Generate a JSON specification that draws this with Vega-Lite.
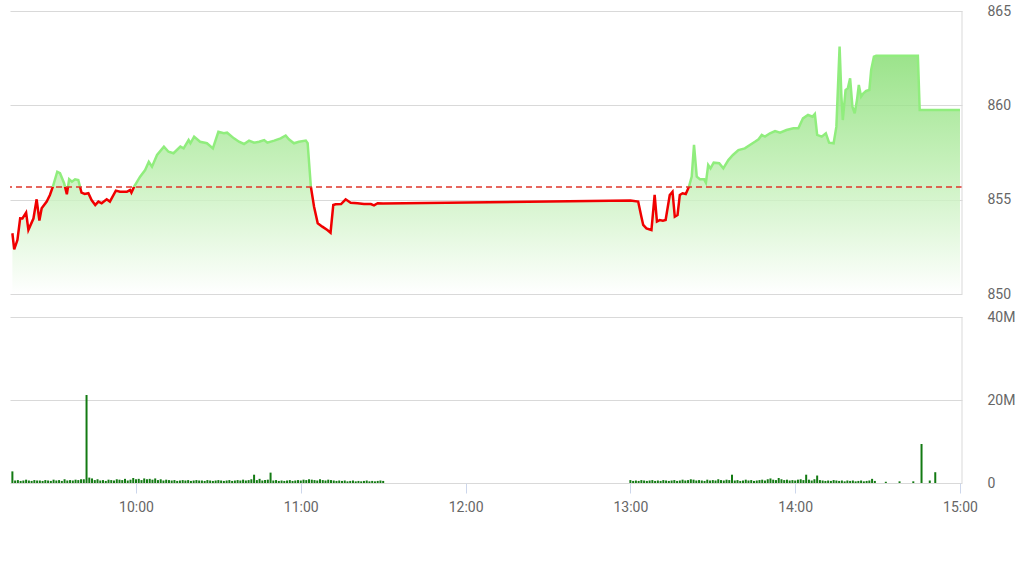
{
  "$schema": "https://vega.github.io/schema/vega-lite/v6.json",
  "width": 952,
  "height": 472,
  "autosize": {"type": "none"},
  "padding": {"left": 10, "top": 11, "right": 61, "bottom": 92},
  "background": "#ffffff",
  "config": {
    "view": {"stroke": null},
    "axis": {"labelFont": "Roboto", "labelFontSize": 14, "labelColor": "#666666", "labelFlush": false, "title": null}
  },
  "layer": [
    {
      "data": {
        "values": [
          {"t": "09:15:00", "p": 853.22}, {"t": "09:15:40", "p": 852.37}, {"t": "09:16:50", "p": 852.86}, {"t": "09:17:50", "p": 854.01},
          {"t": "09:18:40", "p": 854.0}, {"t": "09:20:00", "p": 854.31}, {"t": "09:20:50", "p": 853.4}, {"t": "09:22:40", "p": 854.0},
          {"t": "09:23:50", "p": 855.02}, {"t": "09:24:50", "p": 853.89}, {"t": "09:25:40", "p": 854.54}, {"t": "09:27:30", "p": 854.9},
          {"t": "09:28:40", "p": 855.25}, {"t": "09:29:50", "p": 855.73}, {"t": "09:31:20", "p": 856.48}, {"t": "09:32:20", "p": 856.4},
          {"t": "09:33:50", "p": 855.87}, {"t": "09:34:50", "p": 855.29}, {"t": "09:35:40", "p": 856.08}, {"t": "09:36:40", "p": 855.95},
          {"t": "09:37:50", "p": 856.08}, {"t": "09:39:00", "p": 856.04}, {"t": "09:40:10", "p": 855.37}, {"t": "09:41:20", "p": 855.3},
          {"t": "09:42:40", "p": 855.34}, {"t": "09:43:50", "p": 854.98}, {"t": "09:45:10", "p": 854.72}, {"t": "09:46:20", "p": 854.9},
          {"t": "09:47:30", "p": 854.81}, {"t": "09:49:20", "p": 855.02}, {"t": "09:50:30", "p": 854.9}, {"t": "09:52:40", "p": 855.48},
          {"t": "09:54:10", "p": 855.42}, {"t": "09:56:40", "p": 855.42}, {"t": "09:57:50", "p": 855.51}, {"t": "09:58:20", "p": 855.37},
          {"t": "09:59:20", "p": 855.69}, {"t": "10:01:30", "p": 856.22}, {"t": "10:03:20", "p": 856.57}, {"t": "10:04:40", "p": 857.01},
          {"t": "10:05:50", "p": 856.75}, {"t": "10:07:40", "p": 857.37}, {"t": "10:10:10", "p": 857.81}, {"t": "10:11:50", "p": 857.54},
          {"t": "10:13:40", "p": 857.46}, {"t": "10:16:10", "p": 857.81}, {"t": "10:17:20", "p": 857.72}, {"t": "10:19:10", "p": 858.16},
          {"t": "10:19:50", "p": 857.99}, {"t": "10:21:10", "p": 858.34}, {"t": "10:23:20", "p": 858.07}, {"t": "10:25:50", "p": 857.99},
          {"t": "10:28:00", "p": 857.72}, {"t": "10:30:00", "p": 858.6}, {"t": "10:32:00", "p": 858.52}, {"t": "10:33:10", "p": 858.55},
          {"t": "10:35:40", "p": 858.25}, {"t": "10:37:30", "p": 858.07}, {"t": "10:39:20", "p": 857.95}, {"t": "10:41:10", "p": 858.13},
          {"t": "10:43:00", "p": 858.02}, {"t": "10:44:50", "p": 858.07}, {"t": "10:46:40", "p": 858.16}, {"t": "10:47:50", "p": 858.02},
          {"t": "10:50:20", "p": 858.13}, {"t": "10:52:40", "p": 858.25}, {"t": "10:54:30", "p": 858.4}, {"t": "10:55:40", "p": 858.2},
          {"t": "10:57:30", "p": 857.99}, {"t": "10:59:20", "p": 858.07}, {"t": "11:01:50", "p": 858.13}, {"t": "11:02:30", "p": 857.99},
          {"t": "11:03:40", "p": 855.69}, {"t": "11:04:50", "p": 854.63}, {"t": "11:06:10", "p": 853.75}, {"t": "11:07:50", "p": 853.57},
          {"t": "11:09:40", "p": 853.39}, {"t": "11:10:50", "p": 853.25}, {"t": "11:11:50", "p": 854.72}, {"t": "11:12:40", "p": 854.76},
          {"t": "11:14:40", "p": 854.77}, {"t": "11:16:20", "p": 855.02}, {"t": "11:18:10", "p": 854.84}, {"t": "11:20:40", "p": 854.81},
          {"t": "11:23:00", "p": 854.77}, {"t": "11:25:30", "p": 854.77}, {"t": "11:26:40", "p": 854.7}, {"t": "11:28:00", "p": 854.81},
          {"t": "11:30:00", "p": 854.8}, {"t": "13:00:00", "p": 854.95}, {"t": "13:02:50", "p": 854.9}, {"t": "13:04:00", "p": 854.1},
          {"t": "13:04:40", "p": 853.66}, {"t": "13:05:50", "p": 853.48}, {"t": "13:07:40", "p": 853.39}, {"t": "13:08:50", "p": 855.25},
          {"t": "13:09:40", "p": 853.84}, {"t": "13:10:40", "p": 853.92}, {"t": "13:11:50", "p": 853.89}, {"t": "13:12:50", "p": 853.92},
          {"t": "13:14:20", "p": 855.25}, {"t": "13:15:20", "p": 855.42}, {"t": "13:16:10", "p": 854.1}, {"t": "13:17:10", "p": 854.19},
          {"t": "13:18:00", "p": 855.25}, {"t": "13:19:00", "p": 855.34}, {"t": "13:20:10", "p": 855.3}, {"t": "13:21:20", "p": 855.69},
          {"t": "13:22:20", "p": 856.22}, {"t": "13:23:10", "p": 857.9}, {"t": "13:24:10", "p": 856.22}, {"t": "13:25:20", "p": 856.08},
          {"t": "13:26:50", "p": 856.08}, {"t": "13:27:30", "p": 855.9}, {"t": "13:28:20", "p": 856.84}, {"t": "13:29:10", "p": 856.66},
          {"t": "13:30:20", "p": 856.96}, {"t": "13:32:20", "p": 856.93}, {"t": "13:33:50", "p": 856.66}, {"t": "13:35:40", "p": 857.1},
          {"t": "13:37:20", "p": 857.37}, {"t": "13:39:20", "p": 857.63}, {"t": "13:41:40", "p": 857.72}, {"t": "13:43:30", "p": 857.9},
          {"t": "13:45:20", "p": 858.07}, {"t": "13:46:40", "p": 858.2}, {"t": "13:47:50", "p": 858.43}, {"t": "13:49:00", "p": 858.34},
          {"t": "13:50:50", "p": 858.52}, {"t": "13:52:40", "p": 858.64}, {"t": "13:54:30", "p": 858.55}, {"t": "13:56:50", "p": 858.69},
          {"t": "13:59:20", "p": 858.78}, {"t": "14:01:10", "p": 858.78}, {"t": "14:02:50", "p": 859.31}, {"t": "14:04:40", "p": 859.49},
          {"t": "14:06:20", "p": 859.4}, {"t": "14:07:10", "p": 859.54}, {"t": "14:08:00", "p": 858.43}, {"t": "14:09:40", "p": 858.34},
          {"t": "14:11:10", "p": 858.52}, {"t": "14:12:20", "p": 858.02}, {"t": "14:14:00", "p": 857.99}, {"t": "14:15:00", "p": 858.87},
          {"t": "14:16:10", "p": 863.11}, {"t": "14:16:50", "p": 860.46}, {"t": "14:17:20", "p": 859.22}, {"t": "14:18:20", "p": 860.81},
          {"t": "14:19:10", "p": 860.9}, {"t": "14:20:00", "p": 861.43}, {"t": "14:20:50", "p": 859.93}, {"t": "14:21:40", "p": 859.58},
          {"t": "14:22:30", "p": 860.28}, {"t": "14:23:10", "p": 861.08}, {"t": "14:24:00", "p": 860.46}, {"t": "14:24:50", "p": 860.64},
          {"t": "14:25:50", "p": 860.76}, {"t": "14:27:00", "p": 860.81}, {"t": "14:27:40", "p": 861.87}, {"t": "14:28:40", "p": 862.58},
          {"t": "14:29:30", "p": 862.63}, {"t": "14:44:40", "p": 862.63}, {"t": "14:45:20", "p": 859.75}, {"t": "15:00:00", "p": 859.75}
        ],
        "format": {"parse": {"t": "date:'%H:%M:%S'"}}
      },
      "layer": [
        {
          "mark": {
            "type": "area",
            "interpolate": "linear",
            "fillOpacity": 0.8,
            "fill": {
              "gradient": "linear", "x1": 0, "y1": 0, "x2": 0, "y2": 1,
              "stops": [
                {"offset": 0, "color": "#7edb69"},
                {"offset": 0.5, "color": "#bbeeae"},
                {"offset": 1, "color": "#ffffff"}
              ]
            }
          },
          "encoding": {
            "x": {"field": "t", "type": "temporal", "scale": {"nice": false, "padding": 0, "domain": [{"year": 1900, "month": 1, "date": 1, "hours": 9, "minutes": 14, "seconds": 8}, {"year": 1900, "month": 1, "date": 1, "hours": 15, "minutes": 0, "seconds": 44}]}},
            "y": {"field": "p", "type": "quantitative", "stack": null, "scale": {"domain": [850, 865], "range": [283, 0], "nice": false, "zero": false},
              "axis": {"orient": "right", "values": [850, 855, 860, 865], "grid": true, "gridColor": "#d9d9d9", "gridWidth": 1, "ticks": false, "tickSize": 0, "domain": false, "labelPadding": 25, "labelAlign": "left", "labelBaseline": "middle"}},
            "y2": {"datum": 850}
          }
        },
        {
          "mark": {
            "type": "line",
            "interpolate": "linear",
            "strokeWidth": 2.5,
            "stroke": {
              "gradient": "linear", "x1": 0, "y1": 0, "x2": 0, "y2": 1,
              "stops": [
                {"offset": 0, "color": "#90ed7d"},
                {"offset": 0.69274, "color": "#90ed7d"},
                {"offset": 0.69274, "color": "#f00000"},
                {"offset": 1, "color": "#f00000"}
              ]
            }
          },
          "encoding": {
            "x": {"field": "t", "type": "temporal"},
            "y": {"field": "p", "type": "quantitative"}
          }
        },
        {
          "data": {"values": [{"ref": 855.67}]},
          "mark": {"type": "rule", "color": "#e0352b", "strokeWidth": 1.5, "strokeDash": [6, 4]},
          "encoding": {
            "y": {"field": "ref", "type": "quantitative"}
          }
        },
        {
          "data": {"values": [{}]},
          "mark": {"type": "rule", "color": "#d9d9d9", "strokeWidth": 1},
          "encoding": {
            "x": {"datum": {"year": 1900, "month": 1, "date": 1, "hours": 15, "minutes": 0, "seconds": 44}, "type": "temporal"},
            "y": {"datum": 850, "type": "quantitative"},
            "y2": {"datum": 865}
          }
        }
      ]
    },
    {
      "data": {
        "values": [
          {"t": "09:15", "v": 2.8}, {"t": "09:16", "v": 0.6}, {"t": "09:17", "v": 0.7}, {"t": "09:18", "v": 0.5}, {"t": "09:19", "v": 0.6},
          {"t": "09:20", "v": 0.8}, {"t": "09:21", "v": 0.6}, {"t": "09:22", "v": 0.5}, {"t": "09:23", "v": 0.7}, {"t": "09:24", "v": 0.6},
          {"t": "09:25", "v": 0.6}, {"t": "09:26", "v": 0.5}, {"t": "09:27", "v": 0.7}, {"t": "09:28", "v": 0.6}, {"t": "09:29", "v": 0.5},
          {"t": "09:30", "v": 0.8}, {"t": "09:31", "v": 0.6}, {"t": "09:32", "v": 0.7}, {"t": "09:33", "v": 0.5}, {"t": "09:34", "v": 0.9},
          {"t": "09:35", "v": 0.6}, {"t": "09:36", "v": 0.7}, {"t": "09:37", "v": 0.6}, {"t": "09:38", "v": 0.8}, {"t": "09:39", "v": 0.7},
          {"t": "09:40", "v": 0.9}, {"t": "09:41", "v": 0.9}, {"t": "09:42", "v": 21.2}, {"t": "09:43", "v": 1.3}, {"t": "09:44", "v": 1.1},
          {"t": "09:45", "v": 0.7}, {"t": "09:46", "v": 0.9}, {"t": "09:47", "v": 0.6}, {"t": "09:48", "v": 0.7}, {"t": "09:49", "v": 0.5},
          {"t": "09:50", "v": 0.8}, {"t": "09:51", "v": 0.7}, {"t": "09:52", "v": 0.6}, {"t": "09:53", "v": 0.9}, {"t": "09:54", "v": 0.8},
          {"t": "09:55", "v": 0.7}, {"t": "09:56", "v": 1.0}, {"t": "09:57", "v": 0.6}, {"t": "09:58", "v": 0.8}, {"t": "09:59", "v": 1.2},
          {"t": "10:00", "v": 0.9}, {"t": "10:01", "v": 1.0}, {"t": "10:02", "v": 0.7}, {"t": "10:03", "v": 1.1}, {"t": "10:04", "v": 0.9},
          {"t": "10:05", "v": 1.0}, {"t": "10:06", "v": 0.8}, {"t": "10:07", "v": 1.1}, {"t": "10:08", "v": 0.7}, {"t": "10:09", "v": 0.9},
          {"t": "10:10", "v": 0.6}, {"t": "10:11", "v": 0.8}, {"t": "10:12", "v": 0.7}, {"t": "10:13", "v": 0.6}, {"t": "10:14", "v": 0.7},
          {"t": "10:15", "v": 0.5}, {"t": "10:16", "v": 0.6}, {"t": "10:17", "v": 0.7}, {"t": "10:18", "v": 0.6}, {"t": "10:19", "v": 0.7},
          {"t": "10:20", "v": 0.5}, {"t": "10:21", "v": 0.6}, {"t": "10:22", "v": 0.7}, {"t": "10:23", "v": 0.6}, {"t": "10:24", "v": 0.6},
          {"t": "10:25", "v": 0.5}, {"t": "10:26", "v": 0.7}, {"t": "10:27", "v": 0.6}, {"t": "10:28", "v": 0.5}, {"t": "10:29", "v": 0.6},
          {"t": "10:30", "v": 0.7}, {"t": "10:31", "v": 0.6}, {"t": "10:32", "v": 0.5}, {"t": "10:33", "v": 0.6}, {"t": "10:34", "v": 0.7},
          {"t": "10:35", "v": 0.5}, {"t": "10:36", "v": 0.6}, {"t": "10:37", "v": 0.7}, {"t": "10:38", "v": 0.6}, {"t": "10:39", "v": 0.8},
          {"t": "10:40", "v": 0.6}, {"t": "10:41", "v": 0.7}, {"t": "10:42", "v": 0.9}, {"t": "10:43", "v": 2.0}, {"t": "10:44", "v": 0.7},
          {"t": "10:45", "v": 1.0}, {"t": "10:46", "v": 0.6}, {"t": "10:47", "v": 0.7}, {"t": "10:48", "v": 0.8}, {"t": "10:49", "v": 2.5},
          {"t": "10:50", "v": 0.6}, {"t": "10:51", "v": 0.7}, {"t": "10:52", "v": 0.5}, {"t": "10:53", "v": 0.6}, {"t": "10:54", "v": 0.5},
          {"t": "10:55", "v": 0.6}, {"t": "10:56", "v": 0.7}, {"t": "10:57", "v": 0.5}, {"t": "10:58", "v": 0.6}, {"t": "10:59", "v": 0.7},
          {"t": "11:00", "v": 0.6}, {"t": "11:01", "v": 0.8}, {"t": "11:02", "v": 0.7}, {"t": "11:03", "v": 0.9}, {"t": "11:04", "v": 0.8},
          {"t": "11:05", "v": 0.7}, {"t": "11:06", "v": 0.6}, {"t": "11:07", "v": 0.9}, {"t": "11:08", "v": 0.7}, {"t": "11:09", "v": 0.6},
          {"t": "11:10", "v": 0.8}, {"t": "11:11", "v": 0.7}, {"t": "11:12", "v": 0.6}, {"t": "11:13", "v": 0.5}, {"t": "11:14", "v": 0.6},
          {"t": "11:15", "v": 0.5}, {"t": "11:16", "v": 0.6}, {"t": "11:17", "v": 0.4}, {"t": "11:18", "v": 0.5}, {"t": "11:19", "v": 0.6},
          {"t": "11:20", "v": 0.4}, {"t": "11:21", "v": 0.5}, {"t": "11:22", "v": 0.4}, {"t": "11:23", "v": 0.5}, {"t": "11:24", "v": 0.6},
          {"t": "11:25", "v": 0.4}, {"t": "11:26", "v": 0.5}, {"t": "11:27", "v": 0.4}, {"t": "11:28", "v": 0.5}, {"t": "11:29", "v": 0.6},
          {"t": "11:30", "v": 0.5},
          {"t": "13:00", "v": 0.7}, {"t": "13:01", "v": 0.5}, {"t": "13:02", "v": 0.6}, {"t": "13:03", "v": 0.5}, {"t": "13:04", "v": 0.7},
          {"t": "13:05", "v": 0.6}, {"t": "13:06", "v": 0.5}, {"t": "13:07", "v": 0.6}, {"t": "13:08", "v": 0.7}, {"t": "13:09", "v": 0.5},
          {"t": "13:10", "v": 0.6}, {"t": "13:11", "v": 0.5}, {"t": "13:12", "v": 0.7}, {"t": "13:13", "v": 0.6}, {"t": "13:14", "v": 0.5},
          {"t": "13:15", "v": 0.6}, {"t": "13:16", "v": 0.7}, {"t": "13:17", "v": 0.5}, {"t": "13:18", "v": 0.6}, {"t": "13:19", "v": 0.8},
          {"t": "13:20", "v": 0.6}, {"t": "13:21", "v": 0.7}, {"t": "13:22", "v": 0.9}, {"t": "13:23", "v": 0.8}, {"t": "13:24", "v": 0.6},
          {"t": "13:25", "v": 0.7}, {"t": "13:26", "v": 0.6}, {"t": "13:27", "v": 0.5}, {"t": "13:28", "v": 0.8}, {"t": "13:29", "v": 0.6},
          {"t": "13:30", "v": 0.7}, {"t": "13:31", "v": 0.6}, {"t": "13:32", "v": 0.9}, {"t": "13:33", "v": 0.7}, {"t": "13:34", "v": 0.6},
          {"t": "13:35", "v": 0.8}, {"t": "13:36", "v": 0.7}, {"t": "13:37", "v": 2.0}, {"t": "13:38", "v": 0.6}, {"t": "13:39", "v": 0.7},
          {"t": "13:40", "v": 0.5}, {"t": "13:41", "v": 0.6}, {"t": "13:42", "v": 0.8}, {"t": "13:43", "v": 0.6}, {"t": "13:44", "v": 0.7},
          {"t": "13:45", "v": 0.5}, {"t": "13:46", "v": 0.6}, {"t": "13:47", "v": 0.7}, {"t": "13:48", "v": 0.8}, {"t": "13:49", "v": 0.6},
          {"t": "13:50", "v": 0.9}, {"t": "13:51", "v": 1.1}, {"t": "13:52", "v": 0.8}, {"t": "13:53", "v": 0.7}, {"t": "13:54", "v": 1.2},
          {"t": "13:55", "v": 0.9}, {"t": "13:56", "v": 0.7}, {"t": "13:57", "v": 0.8}, {"t": "13:58", "v": 0.6}, {"t": "13:59", "v": 0.7},
          {"t": "14:00", "v": 0.6}, {"t": "14:01", "v": 0.8}, {"t": "14:02", "v": 0.9}, {"t": "14:03", "v": 0.7}, {"t": "14:04", "v": 2.0},
          {"t": "14:05", "v": 0.8}, {"t": "14:06", "v": 0.6}, {"t": "14:07", "v": 0.9}, {"t": "14:08", "v": 1.8}, {"t": "14:09", "v": 0.7},
          {"t": "14:10", "v": 0.6}, {"t": "14:11", "v": 0.5}, {"t": "14:12", "v": 0.6}, {"t": "14:13", "v": 0.5}, {"t": "14:14", "v": 0.7},
          {"t": "14:15", "v": 0.6}, {"t": "14:16", "v": 0.5}, {"t": "14:17", "v": 0.6}, {"t": "14:18", "v": 0.4}, {"t": "14:19", "v": 0.6},
          {"t": "14:20", "v": 0.5}, {"t": "14:21", "v": 0.6}, {"t": "14:22", "v": 0.4}, {"t": "14:23", "v": 0.5}, {"t": "14:24", "v": 0.6},
          {"t": "14:25", "v": 0.4}, {"t": "14:26", "v": 0.5}, {"t": "14:27", "v": 0.6}, {"t": "14:28", "v": 1.0}, {"t": "14:29", "v": 0.5},
          {"t": "14:33", "v": 0.3}, {"t": "14:38", "v": 0.4}, {"t": "14:43", "v": 0.4}, {"t": "14:46", "v": 9.4}, {"t": "14:49", "v": 0.6},
          {"t": "14:51", "v": 2.6}
        ],
        "format": {"parse": {"t": "date:'%H:%M'"}}
      },
      "layer": [
        {
          "mark": {"type": "bar", "size": 2, "color": "#137a13"},
          "encoding": {
            "x": {"field": "t", "type": "temporal",
              "scale": {"nice": false, "padding": 0, "domain": [{"year": 1900, "month": 1, "date": 1, "hours": 9, "minutes": 14, "seconds": 8}, {"year": 1900, "month": 1, "date": 1, "hours": 15, "minutes": 0, "seconds": 44}]},
              "axis": {
                "format": "%H:%M",
                "values": [
                  {"year": 1900, "month": 1, "date": 1, "hours": 10},
                  {"year": 1900, "month": 1, "date": 1, "hours": 11},
                  {"year": 1900, "month": 1, "date": 1, "hours": 12},
                  {"year": 1900, "month": 1, "date": 1, "hours": 13},
                  {"year": 1900, "month": 1, "date": 1, "hours": 14},
                  {"year": 1900, "month": 1, "date": 1, "hours": 15}
                ],
                "grid": false, "domain": false, "ticks": true, "tickSize": 10, "tickColor": "#ccd6eb", "tickWidth": 1,
                "labelPadding": 7, "labelOverlap": false
              }},
            "y": {"field": "v", "type": "quantitative", "scale": {"domain": [0, 40], "range": [472, 306], "nice": false},
              "axis": {"orient": "right", "values": [0, 20, 40], "labelExpr": "datum.value == 0 ? '0' : datum.value + 'M'", "grid": true, "gridColor": "#d9d9d9", "gridWidth": 1, "ticks": false, "tickSize": 0, "domain": false, "labelPadding": 25, "labelAlign": "left", "labelBaseline": "middle"}}
          }
        },
        {
          "data": {"values": [{}]},
          "mark": {"type": "rule", "color": "#d9d9d9", "strokeWidth": 1},
          "encoding": {
            "x": {"datum": {"year": 1900, "month": 1, "date": 1, "hours": 15, "minutes": 0, "seconds": 44}, "type": "temporal"},
            "y": {"datum": 0, "type": "quantitative"},
            "y2": {"datum": 40}
          }
        }
      ]
    }
  ],
  "resolve": {"scale": {"y": "independent"}, "axis": {"y": "independent"}}
}
